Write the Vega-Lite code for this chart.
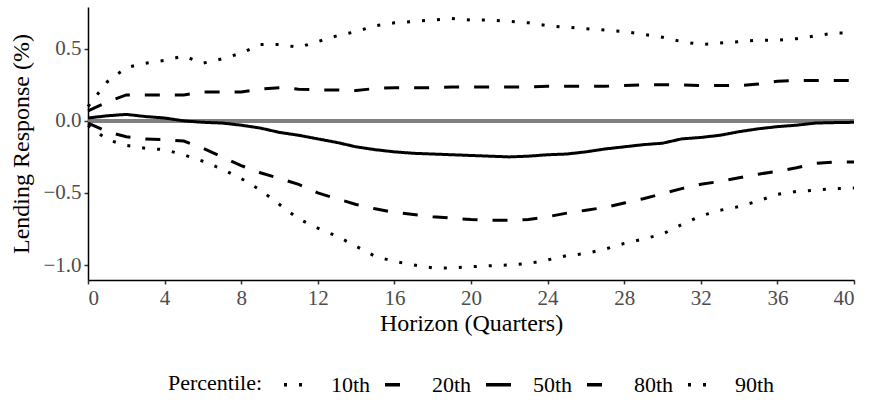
{
  "$schema": "https://vega.github.io/schema/vega-lite/v6.json",
  "autosize": {"type": "none"},
  "padding": {"left": 88, "top": 7, "right": 16, "bottom": 126},
  "width": 766,
  "height": 273,
  "background": "white",
  "config": {
    "view": {"stroke": null},
    "font": "Liberation Serif",
    "axis": {
      "grid": false,
      "domainColor": "black",
      "domainWidth": 1.5,
      "tickColor": "#333333",
      "tickWidth": 1.5,
      "tickSize": 4,
      "labelFont": "Liberation Serif",
      "labelFontSize": 21,
      "labelColor": "#4d4d4d",
      "labelPadding": 3,
      "titleFont": "Liberation Serif",
      "titleFontSize": 24,
      "titleFontWeight": "normal",
      "titleColor": "black"
    },
    "legend": {
      "labelFont": "Liberation Serif",
      "labelFontSize": 22,
      "labelColor": "black",
      "titleFont": "Liberation Serif",
      "titleFontSize": 22,
      "titleFontWeight": "normal",
      "titleColor": "black"
    }
  },
  "data": {
    "values": [
      {"h": 0, "10th": -0.03, "20th": -0.015, "50th": 0.02, "80th": 0.07, "90th": 0.10},
      {"h": 1, "10th": -0.13, "20th": -0.075, "50th": 0.035, "80th": 0.13, "90th": 0.27},
      {"h": 2, "10th": -0.17, "20th": -0.11, "50th": 0.045, "80th": 0.18, "90th": 0.37},
      {"h": 3, "10th": -0.19, "20th": -0.125, "50th": 0.03, "80th": 0.18, "90th": 0.40},
      {"h": 4, "10th": -0.20, "20th": -0.13, "50th": 0.02, "80th": 0.18, "90th": 0.42},
      {"h": 5, "10th": -0.235, "20th": -0.14, "50th": 0.0, "80th": 0.18, "90th": 0.45},
      {"h": 6, "10th": -0.28, "20th": -0.19, "50th": -0.01, "80th": 0.20, "90th": 0.40},
      {"h": 7, "10th": -0.335, "20th": -0.25, "50th": -0.015, "80th": 0.20, "90th": 0.43},
      {"h": 8, "10th": -0.40, "20th": -0.31, "50th": -0.03, "80th": 0.20, "90th": 0.47},
      {"h": 9, "10th": -0.48, "20th": -0.36, "50th": -0.05, "80th": 0.22, "90th": 0.53},
      {"h": 10, "10th": -0.58, "20th": -0.40, "50th": -0.08, "80th": 0.23, "90th": 0.53},
      {"h": 11, "10th": -0.68, "20th": -0.44, "50th": -0.10, "80th": 0.22, "90th": 0.51},
      {"h": 12, "10th": -0.745, "20th": -0.50, "50th": -0.125, "80th": 0.215, "90th": 0.55},
      {"h": 13, "10th": -0.80, "20th": -0.54, "50th": -0.15, "80th": 0.215, "90th": 0.59},
      {"h": 14, "10th": -0.87, "20th": -0.58, "50th": -0.18, "80th": 0.21, "90th": 0.62},
      {"h": 15, "10th": -0.94, "20th": -0.61, "50th": -0.20, "80th": 0.225, "90th": 0.66},
      {"h": 16, "10th": -0.975, "20th": -0.635, "50th": -0.215, "80th": 0.23, "90th": 0.68},
      {"h": 17, "10th": -1.0, "20th": -0.65, "50th": -0.225, "80th": 0.23, "90th": 0.69},
      {"h": 18, "10th": -1.02, "20th": -0.665, "50th": -0.23, "80th": 0.23, "90th": 0.70},
      {"h": 19, "10th": -1.02, "20th": -0.675, "50th": -0.235, "80th": 0.235, "90th": 0.71},
      {"h": 20, "10th": -1.012, "20th": -0.685, "50th": -0.24, "80th": 0.235, "90th": 0.70},
      {"h": 21, "10th": -1.005, "20th": -0.69, "50th": -0.245, "80th": 0.235, "90th": 0.70},
      {"h": 22, "10th": -1.0, "20th": -0.69, "50th": -0.25, "80th": 0.235, "90th": 0.69},
      {"h": 23, "10th": -0.99, "20th": -0.685, "50th": -0.245, "80th": 0.235, "90th": 0.68},
      {"h": 24, "10th": -0.965, "20th": -0.665, "50th": -0.235, "80th": 0.24, "90th": 0.66},
      {"h": 25, "10th": -0.935, "20th": -0.64, "50th": -0.23, "80th": 0.24, "90th": 0.65},
      {"h": 26, "10th": -0.92, "20th": -0.62, "50th": -0.215, "80th": 0.24, "90th": 0.64},
      {"h": 27, "10th": -0.89, "20th": -0.60, "50th": -0.195, "80th": 0.24, "90th": 0.63},
      {"h": 28, "10th": -0.85, "20th": -0.57, "50th": -0.18, "80th": 0.245, "90th": 0.62},
      {"h": 29, "10th": -0.82, "20th": -0.54, "50th": -0.165, "80th": 0.25, "90th": 0.60},
      {"h": 30, "10th": -0.785, "20th": -0.505, "50th": -0.155, "80th": 0.25, "90th": 0.58},
      {"h": 31, "10th": -0.72, "20th": -0.47, "50th": -0.125, "80th": 0.25, "90th": 0.55},
      {"h": 32, "10th": -0.66, "20th": -0.44, "50th": -0.115, "80th": 0.245, "90th": 0.53},
      {"h": 33, "10th": -0.62, "20th": -0.42, "50th": -0.10, "80th": 0.245, "90th": 0.54},
      {"h": 34, "10th": -0.595, "20th": -0.395, "50th": -0.075, "80th": 0.245, "90th": 0.55},
      {"h": 35, "10th": -0.555, "20th": -0.37, "50th": -0.055, "80th": 0.255, "90th": 0.56},
      {"h": 36, "10th": -0.51, "20th": -0.35, "50th": -0.04, "80th": 0.275, "90th": 0.56},
      {"h": 37, "10th": -0.49, "20th": -0.325, "50th": -0.03, "80th": 0.28, "90th": 0.57},
      {"h": 38, "10th": -0.48, "20th": -0.295, "50th": -0.015, "80th": 0.28, "90th": 0.59},
      {"h": 39, "10th": -0.47, "20th": -0.285, "50th": -0.012, "80th": 0.28, "90th": 0.61},
      {"h": 40, "10th": -0.465, "20th": -0.285, "50th": -0.01, "80th": 0.28, "90th": 0.61}
    ]
  },
  "layer": [
    {
      "mark": {"type": "rule", "color": "#808080", "strokeWidth": 3.5},
      "encoding": {"y": {"datum": 0, "type": "quantitative"}}
    },
    {
      "transform": [
        {"fold": ["10th", "20th", "50th", "80th", "90th"], "as": ["Percentile", "value"]}
      ],
      "mark": {"type": "line", "color": "black", "strokeWidth": 3, "strokeCap": "butt"},
      "encoding": {
        "x": {
          "field": "h",
          "type": "quantitative",
          "title": "Horizon (Quarters)",
          "scale": {"domain": [0, 40], "nice": false, "zero": false},
          "axis": {"values": [0, 4, 8, 12, 16, 20, 24, 28, 32, 36, 40], "titlePadding": 3}
        },
        "y": {
          "field": "value",
          "type": "quantitative",
          "title": "Lending Response (%)",
          "scale": {"domain": [-1.104, 0.79], "nice": false, "zero": false},
          "axis": {"values": [-1, -0.5, 0, 0.5], "format": ".1f", "titlePadding": 9}
        },
        "strokeDash": {
          "field": "Percentile",
          "type": "nominal",
          "scale": {
            "domain": ["10th", "20th", "50th", "80th", "90th"],
            "range": [[3, 12], [15, 15], [1, 0], [15, 15], [3, 12]]
          },
          "legend": {
            "title": "Percentile:",
            "orient": "none",
            "legendX": 80,
            "legendY": 363,
            "direction": "horizontal",
            "titleOrient": "left",
            "titlePadding": 19,
            "titleBaseline": "middle",
            "symbolType": "stroke",
            "symbolSize": 625,
            "symbolStrokeWidth": 3.5,
            "symbolStrokeColor": "black",
            "labelOffset": 20,
            "columnPadding": 7
          }
        }
      }
    }
  ]
}
